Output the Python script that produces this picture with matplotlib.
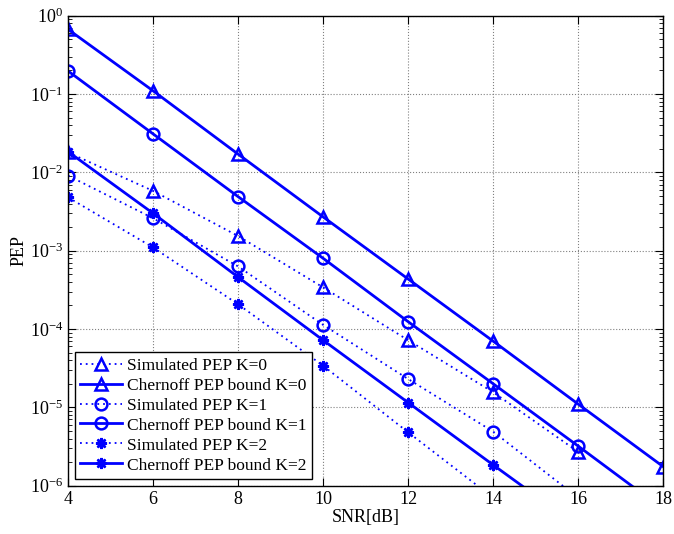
import numpy as np
import matplotlib
matplotlib.use("Agg")
import matplotlib.pyplot as plt
from matplotlib.ticker import LogLocator, NullFormatter

plt.rcParams['font.family'] = ['Liberation Serif', 'DejaVu Serif']
plt.rcParams['mathtext.fontset'] = 'custom'
plt.rcParams['mathtext.rm'] = 'Liberation Serif'
plt.rcParams['mathtext.it'] = 'Liberation Serif:italic'

# values
snr = [4, 6, 8, 10, 12, 14, 16, 18]

sim_k0 = [1.8e-2, 5.8e-3, 1.54e-3, 3.4e-4, 7.2e-5, 1.56e-5, 2.7e-6]
chern_k0 = [0.67, 0.11, 1.71e-2, 2.7e-3, 4.35e-4, 7.0e-5, 1.1e-5, 1.75e-6]

sim_k1 = [9.1e-3, 2.6e-3, 6.3e-4, 1.13e-4, 2.3e-5, 4.9e-6, 7e-7]
chern_k1 = [0.197, 3.1e-2, 4.9e-3, 8.0e-4, 1.24e-4, 2.0e-5, 3.2e-6, 5.0e-7]

sim_k2 = [4.8e-3, 1.1e-3, 2.07e-4, 3.4e-5, 4.8e-6, 7e-7]
chern_k2 = [1.84e-2, 3.0e-3, 4.6e-4, 7.2e-5, 1.15e-5, 1.84e-6, 3.0e-7]

labels = ['Simulated PEP K=0', 'Chernoff PEP bound K=0',
          'Simulated PEP K=1', 'Chernoff PEP bound K=1',
          'Simulated PEP K=2', 'Chernoff PEP bound K=2']

fig = plt.figure(figsize=(6.74, 5.34), dpi=100)
ax = fig.add_axes([0.101, 0.0905, 0.883, 0.880])

blue = (0, 0, 1)
dot = dict(color=blue, linestyle=(0, (1, 2.2)), linewidth=1.3, markerfacecolor='none',
           markeredgewidth=1.8, markersize=8.5)
sol = dict(color=blue, linestyle='-', linewidth=2.0, markerfacecolor='none',
           markeredgewidth=1.8, markersize=8.5)

ax.semilogy(snr[:len(sim_k0)], sim_k0, marker='^', label=labels[0], **dot)
ax.semilogy(snr[:len(chern_k0)], chern_k0, marker='^', label=labels[1], **sol)
ax.semilogy(snr[:len(sim_k1)], sim_k1, marker='o', label=labels[2], **dot)
ax.semilogy(snr[:len(chern_k1)], chern_k1, marker='o', label=labels[3], **sol)
ax.semilogy(snr[:len(sim_k2)], sim_k2, marker=(8, 2, 0), label=labels[4],
            **{**dot, 'markersize': 8})
ax.semilogy(snr[:len(chern_k2)], chern_k2, marker=(8, 2, 0), label=labels[5],
            **{**sol, 'markersize': 8})

ax.set_xlim(4, 18)
ax.set_ylim(1e-6, 1e0)
ax.set_xticks(range(4, 19, 2))
ax.set_yticks([10.0 ** k for k in range(-6, 1)])
ax.yaxis.set_minor_locator(LogLocator(base=10, subs=np.arange(2, 10), numticks=20))
ax.yaxis.set_minor_formatter(NullFormatter())

ax.grid(True, which='major', linestyle=':', color='#808080', linewidth=0.8)
ax.tick_params(which='both', direction='in', top=True, right=True, labelsize=13)
ax.tick_params(which='major', length=6)
ax.tick_params(which='minor', length=3)
for s in ax.spines.values():
    s.set_linewidth(1.0)

ax.set_xlabel('SNR[dB]', fontsize=13, labelpad=1)
ax.set_ylabel('PEP', fontsize=13, labelpad=2)

leg = ax.legend(loc='lower left', fontsize=12.5, handlelength=2.4,
                handletextpad=0.3, labelspacing=0.22, borderpad=0.3,
                borderaxespad=0.4, fancybox=False, framealpha=1)
leg.get_frame().set_edgecolor('black')
leg.get_frame().set_linewidth(1.0)

fig.savefig('out.png', dpi=100)
